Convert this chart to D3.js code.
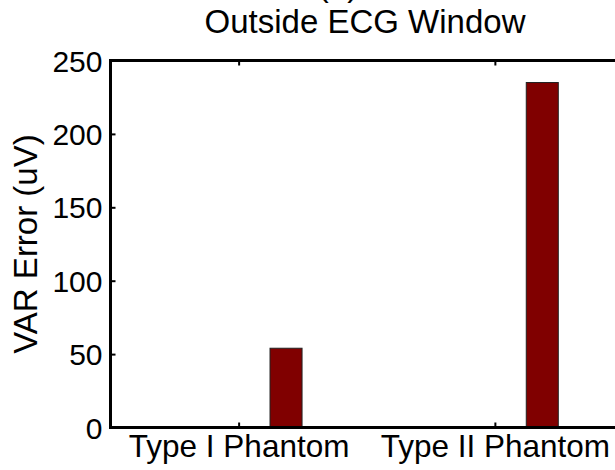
<!DOCTYPE html>
<html>
<head>
<meta charset="utf-8">
<script src="https://cdn.jsdelivr.net/npm/d3@7"></script>
<style>
  html, body { margin: 0; padding: 0; background: #fff; }
  svg { display: block; font-family: "Liberation Sans", Arial, sans-serif; }
</style>
</head>
<body>
<svg id="chart" width="615" height="470"></svg>
<script>
const categories = ["Type I Phantom", "Type II Phantom"];
const varError = [54, 235];
const yTicks = [0, 50, 100, 150, 200, 250];
const titleText = "Outside ECG Window";
const panelLabel = "(b)";
const yLabel = "VAR Error (uV)";

(function () {
const svg = d3.select("#chart");
const pLeft = 110.5, pTop = 60.5, pBottom = 427.5, pRight = 623;

const x = d3.scaleLinear().domain([0.5, categories.length + 0.5]).range([pLeft, pRight]);
const y = d3.scaleLinear().domain([0, 250]).range([pBottom, pTop]);

const barOffset = 0.185, barWidth = 0.125;
const tickFont = 30, xTickFont = 31.5, labelFont = 33;

// bars
svg.append("g").selectAll("rect").data(varError).join("rect")
  .attr("x", (d, i) => x(i + 1 + barOffset - barWidth / 2))
  .attr("width", x(barWidth) - x(0))
  .attr("y", d => y(d))
  .attr("height", d => y(0) - y(d))
  .attr("fill", "#800000")
  .attr("stroke", "#222")
  .attr("stroke-width", 1);

// box
svg.append("rect")
  .attr("x", pLeft).attr("y", pTop)
  .attr("width", pRight - pLeft).attr("height", pBottom - pTop)
  .attr("fill", "none").attr("stroke", "#000").attr("stroke-width", 3);

const catTicks = categories.map((c, i) => i + 1);

// left axis
const yAxis = svg.append("g").attr("transform", `translate(${pLeft},0)`)
  .call(d3.axisLeft(y).tickValues(yTicks).tickSize(-5).tickPadding(8).tickFormat(d3.format("d")));
yAxis.select(".domain").remove();
yAxis.selectAll(".tick line").attr("stroke", "#000").attr("stroke-width", 2);
yAxis.selectAll(".tick text").attr("font-size", tickFont).attr("fill", "#000")
  .attr("font-family", "Liberation Sans, Arial, sans-serif").attr("x", -8).attr("dy", "0.35em");

// right axis ticks
const yAxisR = svg.append("g").attr("transform", `translate(${pRight},0)`)
  .call(d3.axisRight(y).tickValues(yTicks).tickSize(-5).tickFormat(""));
yAxisR.select(".domain").remove();
yAxisR.selectAll(".tick line").attr("stroke", "#000").attr("stroke-width", 2);

// bottom axis
const xAxis = svg.append("g").attr("transform", `translate(0,${pBottom})`)
  .call(d3.axisBottom(x).tickValues(catTicks).tickSize(-5).tickFormat((d, i) => categories[i]));
xAxis.select(".domain").remove();
xAxis.selectAll(".tick line").attr("stroke", "#000").attr("stroke-width", 2);
xAxis.selectAll(".tick text").attr("font-size", xTickFont).attr("fill", "#000")
  .attr("font-family", "Liberation Sans, Arial, sans-serif").attr("y", 29).attr("dy", 0);

// top axis ticks
const xAxisT = svg.append("g").attr("transform", `translate(0,${pTop})`)
  .call(d3.axisTop(x).tickValues(catTicks).tickSize(-5).tickFormat(""));
xAxisT.select(".domain").remove();
xAxisT.selectAll(".tick line").attr("stroke", "#000").attr("stroke-width", 2);

// title
svg.append("text").attr("x", 365).attr("y", 33)
  .attr("text-anchor", "middle").attr("font-size", labelFont).attr("fill", "#000")
  .text(titleText);
svg.append("text").attr("x", 338).attr("y", -4)
  .attr("text-anchor", "middle").attr("font-size", labelFont).attr("fill", "#000")
  .text(panelLabel);

// y label
svg.append("text")
  .attr("transform", `translate(37,${(pTop + pBottom) / 2}) rotate(-90)`)
  .attr("text-anchor", "middle").attr("font-size", labelFont).attr("fill", "#000")
  .text(yLabel);
})();
</script>
</body>
</html>
